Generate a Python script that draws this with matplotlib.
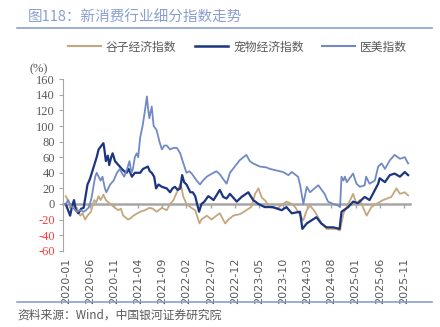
import matplotlib
matplotlib.use('Agg')
import matplotlib.pyplot as plt
from matplotlib.lines import Line2D

plt.rcParams['font.family'] = ['Noto Sans CJK SC', 'DejaVu Sans']

# month index: 0 = 2020-01
tick_labels = ['2020-01', '2020-06', '2020-11', '2021-04', '2021-09', '2022-02', '2022-07',
               '2022-12', '2023-05', '2023-10', '2024-03', '2024-08', '2025-01', '2025-06', '2025-11']
tick_pos = [5 * i for i in range(len(tick_labels))]

guzi_m = [0, 0.4, 0.9, 1.5, 2.3, 3.0, 3.5, 4.0, 4.5, 5.2, 5.9, 6.3, 6.8, 7.2, 7.8, 8.3, 9.2, 10.2,
          10.9, 11.4, 11.9, 12.9, 13.5, 14.0, 15.4, 16.4, 17.3, 18.0, 18.8, 19.9, 20.9, 21.6, 22.3,
          23.0, 23.7, 24.0, 24.3, 25.0, 26.0, 26.8, 27.7, 28.1, 29.2, 30.2, 31.2, 31.9, 33.0, 33.7,
          34.7, 36.1, 37.4, 38.4, 39.2, 39.9, 40.6, 41.2, 42.3, 43.7, 45.7, 46.8, 47.5, 49.2, 49.9,
          50.6, 51.6, 53.0, 54.0, 56.0, 56.8, 57.5, 58.2, 59.5, 60.2, 60.9, 62.3, 63.3, 64.3, 65.7,
          67.4, 68.5, 69.2, 70.2, 70.9]
guzi_v = [10, 5, -5, -2, -5, -15, -12, -20, -15, -10, 5, 2, 10, 5, 12, 5, 0, -5,
          -8, -6, -15, -20, -18, -15, -10, -8, -5, -6, -10, -5, -8, 0, 5,
          15, 25, 20, 10, 0, -5, -8, -25, -20, -15, -20, -15, -12, -25, -20,
          -15, -13, -8, -4, 13, 20, 8, 5, -4, -6, 3, 0, -4, -21, -8,
          -2, -10, -25, -32, -32, -34, -12, -4, 13, 0, 5, -15, -4, 0, 5,
          9, 20, 13, 15, 11]

pet_m = [0, 0.3, 0.9, 1.3, 1.7, 2.1, 2.6, 3.2, 3.7, 4.1, 4.5, 5.0, 5.4, 5.9, 6.4, 6.8, 7.4, 7.8,
         8.0, 8.3, 8.7, 9.0, 9.4, 9.7, 10.2, 10.9, 11.6, 12.1, 12.6, 13.0, 13.7, 14.3, 15.4, 16.0,
         17.0, 17.4, 17.8, 18.3, 18.7, 19.2, 19.9, 20.9, 21.6, 22.1, 22.6, 23.2, 23.7, 24.1, 24.5,
         25.0, 25.4, 25.8, 26.3, 26.8, 27.2, 27.6, 28.1, 28.7, 29.5, 30.0, 30.6, 31.1, 31.6, 31.9,
         32.6, 33.3, 34.0, 35.4, 36.4, 37.8, 38.4, 38.8, 39.9, 41.2, 42.9, 44.7, 45.7, 46.8, 48.5,
         49.0, 49.9, 50.9, 51.9, 52.9, 54.0, 55.4, 56.7, 57.1, 58.5, 59.5, 60.5, 61.9, 62.9, 63.6,
         64.7, 65.0, 66.1, 67.1, 68.1, 69.2, 70.2, 70.9]
pet_v = [0, -5, -15, -3, 5, -8, -12, -6, -5, 10, 25, 32, 40, 50, 60, 70, 75, 78,
         70, 55, 62, 50, 60, 65, 55, 50, 45, 42, 40, 45, 35, 40, 40, 45,
         48, 42, 40, 35, 20, 25, 22, 20, 15, 20, 22, 18, 20, 37, 28,
         25, 20, 15, 15, 10, 0, -10, 0, 3, 10, 8, 5, 10, 15, 18,
         9, 7, 13, 3, 9, 15, 9, 5, 0, -4, -4, -8, -4, -12, -10,
         -32, -25, -21, -17, -25, -30, -30, -32, -10, -4, 3, 1, 9, 5, 13,
         26, 33, 28, 37, 39, 35, 41, 37]

yimei_m = [0, 0.5, 1.0, 1.5, 2.3, 3.0, 3.7, 4.2, 4.7, 5.1, 5.4, 5.8, 6.1, 6.4, 6.8, 7.2, 7.6, 8.1,
           8.4, 9.2, 9.9, 10.6, 11.2, 11.6, 12.1, 12.7, 13.2, 13.6, 13.9, 14.3, 14.7, 15.0, 15.4,
           15.9, 16.4, 16.8, 17.0, 17.3, 17.8, 18.2, 18.8, 19.4, 19.9, 20.4, 20.9, 21.6, 22.3, 23.0,
           23.7, 24.2, 25.0, 25.6, 26.2, 27.1, 27.8, 28.4, 29.2, 30.0, 30.6, 31.2, 31.9, 33.3, 34.0,
           35.0, 36.0, 37.4, 38.1, 38.8, 40.2, 41.5, 42.3, 43.6, 45.0, 46.1, 46.8, 48.1, 48.5, 49.2,
           49.9, 50.6, 51.5, 52.3, 53.0, 53.6, 54.3, 55.4, 56.4, 56.8, 57.1, 57.5, 57.8, 58.2, 59.5,
           60.2, 60.9, 61.9, 62.2, 62.9, 64.0, 64.7, 65.4, 66.1, 67.1, 68.1, 69.2, 70.2, 70.9]
yimei_v = [0, 5, -2, -5, -10, -8, -10, -8, -5, 2, 10, 25, 35, 40, 35, 30, 35, 20,
           15, 25, 30, 40, 45, 40, 35, 45, 55, 40, 45, 60, 65, 60, 85,
           100, 120, 138, 125, 110, 125, 100, 95, 80, 70, 75, 75, 70, 72, 72,
           65, 55, 40, 42, 38, 30, 25, 30, 35, 38, 40, 42, 38, 26, 40,
           48, 56, 63, 55, 52, 48, 47, 45, 43, 41, 37, 41, 35, 25, 0,
           22, 15, 20, 24, 18, 13, 3, 0, -2, -4, 35, 30, 35, 28, 39,
           26, 22, 24, 35, 26, 30, 48, 52, 45, 56, 63, 58, 60, 52]

c_guzi = '#c4a67f'
c_pet = '#1b3580'
c_yimei = '#7189c5'
c_rule = '#8a9fd0'
c_grey = '#595959'

fig = plt.figure(figsize=(4.4, 3.27), dpi=100)
ax = fig.add_axes([0.144, 0.2333, 0.788, 0.5242])

ax.plot(guzi_m, guzi_v, color=c_guzi, lw=1.3, label='谷子经济指数')
ax.plot(pet_m, pet_v, color=c_pet, lw=1.6, label='宠物经济指数')
ax.plot(yimei_m, yimei_v, color=c_yimei, lw=1.3, label='医美指数')

ax.set_xlim(-0.5, 71.3)
ax.set_ylim(-60, 160)
yt = list(range(-60, 161, 20))
ax.set_yticks(yt)
ax.set_yticklabels([str(v) for v in yt], family='Liberation Serif', fontsize=9)
for lab, v in zip(ax.get_yticklabels(), yt):
    lab.set_color('#ff3b3b' if v < 0 else c_grey)
ax.tick_params(axis='y', direction='out', length=3, color='#a6a6a6', pad=3)

ax.set_xticks(tick_pos)
ax.set_xticklabels(tick_labels, rotation=90, family=['Liberation Sans Narrow', 'DejaVu Sans'],
                   fontsize=8, color=c_grey)
ax.tick_params(axis='x', length=0, pad=5)

for s in ['top', 'right', 'bottom']:
    ax.spines[s].set_visible(False)
ax.spines['left'].set_color('#a6a6a6')

# zero axis with small ticks
zero_ax = ax.secondary_xaxis(60 / 220)
zero_ax.set_xticks(tick_pos)
zero_ax.set_xticklabels([])
zero_ax.tick_params(axis='x', direction='out', length=3, color='#a6a6a6', width=1)
zero_ax.spines['bottom'].set_color('#a6a6a6')
zero_ax.spines['bottom'].set_linewidth(1.8)

ax.text(-0.07, 1.04, '(%)', transform=ax.transAxes, family='Liberation Serif',
        fontsize=9, color=c_grey, ha='center')

handles = [Line2D([], [], color=c_guzi, lw=1.5),
           Line2D([], [], color=c_pet, lw=1.8),
           Line2D([], [], color=c_yimei, lw=1.5)]
fig.legend(handles, ['谷子经济指数', '宠物经济指数', '医美指数'], loc='center',
           bbox_to_anchor=(0.54, 0.856), ncol=3, frameon=False, fontsize=8.5,
           handlelength=2.8, handletextpad=0.4, columnspacing=1.6, labelcolor=c_grey)

fig.text(0.064, 0.947, '图118：新消费行业细分指数走势', fontsize=10.5, color=c_rule, va='center')
fig.add_artist(Line2D([0.039, 0.982], [0.914, 0.914], color=c_rule, lw=1.2))
fig.add_artist(Line2D([0.039, 0.982], [0.077, 0.077], color=c_rule, lw=1.2))
fig.text(0.039, 0.036, '资料来源：Wind，中国银河证券研究院', fontsize=8.5, color=c_grey,
         style='italic', va='center')

fig.savefig('out.png', dpi=100)
